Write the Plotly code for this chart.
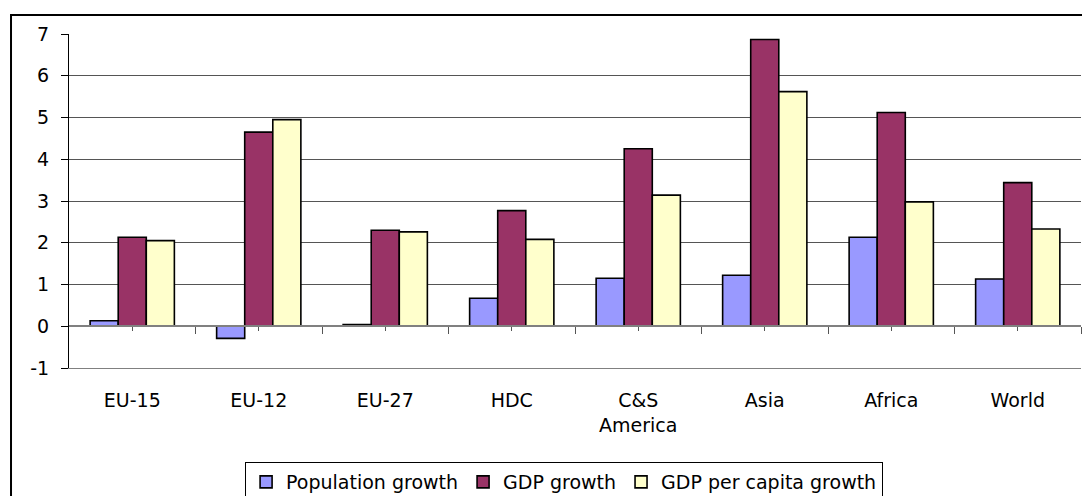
import plotly.graph_objects as go

categories = ["EU-15", "EU-12", "EU-27", "HDC", "C&S<br>America", "Asia", "Africa", "World"]
population_growth = [0.13, -0.29, 0.04, 0.67, 1.15, 1.22, 2.13, 1.13]
gdp_growth = [2.13, 4.65, 2.30, 2.77, 4.25, 6.87, 5.12, 3.44]
gdp_per_capita_growth = [2.05, 4.95, 2.26, 2.08, 3.14, 5.62, 2.98, 2.33]
series_names = ["Population growth", "GDP growth", "GDP per capita growth"]
colors = ["#9999FF", "#993366", "#FFFFCC"]
y_tick_values = [-1, 0, 1, 2, 3, 4, 5, 6, 7]
y_tick_labels = ["-1", "0", "1", "2", "3", "4", "5", "6", "7"]

FONT = "DejaVu Sans"
xpos = list(range(len(categories)))
boundaries = [i + 0.5 for i in xpos]

fig = go.Figure()
for name, vals, col in zip(series_names, [population_growth, gdp_growth, gdp_per_capita_growth], colors):
    fig.add_trace(go.Bar(
        x=xpos, y=vals, name=name,
        marker=dict(color=col, line=dict(color="black", width=1.6)),
    ))

# helper trace so the zero-level tick axis is drawn
fig.add_trace(go.Scatter(x=[None], y=[None], xaxis="x2", showlegend=False, hoverinfo="skip"))

xr = [-0.5, len(categories) - 0.5]
fig.update_layout(
    width=1082, height=496,
    margin=dict(l=69, r=1, t=34, b=128, autoexpand=False),
    paper_bgcolor="white", plot_bgcolor="white",
    barmode="group", bargap=0.334, bargroupgap=0,
    font=dict(family=FONT, size=19, color="black"),
    xaxis=dict(
        range=xr, tickmode="array", tickvals=xpos, ticktext=categories,
        showgrid=False, zeroline=False, showline=True, linecolor="#808080", linewidth=1,
        ticks="", ticklabelstandoff=15, tickfont=dict(family=FONT, size=19, color="black"),
    ),
    xaxis2=dict(
        overlaying="x", anchor="free", position=0.125, side="bottom", range=xr,
        tickmode="array", tickvals=boundaries, showticklabels=False,
        ticks="outside", ticklen=7, tickwidth=1, tickcolor="#555555",
        minor=dict(tickmode="array", tickvals=xpos, ticks="outside", ticklen=4, tickwidth=1, tickcolor="#555555"),
        showgrid=False, zeroline=False, showline=True, linecolor="#808080", linewidth=2,
    ),
    yaxis=dict(
        range=[-1, 7], tickmode="array", tickvals=y_tick_values, ticktext=y_tick_labels,
        showgrid=True, gridcolor="#555555", gridwidth=1,
        zeroline=False, showline=True, linecolor="black", linewidth=1,
        ticks="outside", ticklen=7, tickcolor="black",
        ticklabelstandoff=8, tickfont=dict(family=FONT, size=19, color="black"),
    ),
    legend=dict(
        orientation="h", x=0.174, xanchor="left", y=-0.2814, yanchor="top",
        bordercolor="black", borderwidth=1, bgcolor="white",
        font=dict(family=FONT, size=19, color="black"),
        traceorder="normal",
    ),
    showlegend=True,
)

# outer chart border
fig.add_shape(type="rect", xref="paper", yref="paper",
              x0=-0.0573, y0=-0.6, x1=1.2, y1=1.0569,
              line=dict(color="black", width=2), fillcolor="rgba(0,0,0,0)", layer="below")

fig.write_html("out.html")
